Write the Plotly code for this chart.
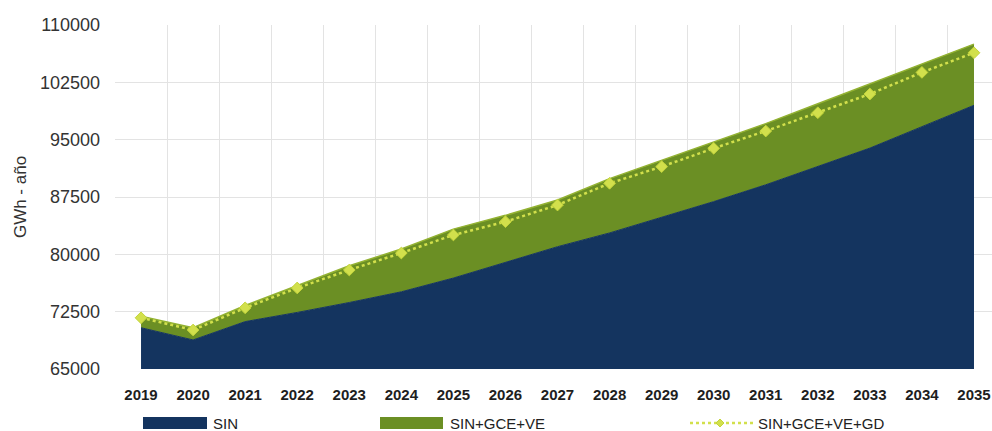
import plotly.graph_objects as go

# ---- data ----
years = list(range(2019, 2036))
sin = [70400, 68800, 71200, 72400, 73700, 75100, 76900, 79000, 81000,
       82800, 84800, 86900, 89100, 91500, 93900, 96700, 99500]
sin_gce_ve = [71900, 70400, 73300, 75900, 78500, 80700, 83300, 85100, 87100,
              89900, 92300, 94700, 97100, 99700, 102300, 105000, 107500]
sin_gce_ve_gd = [71700, 70100, 73000, 75600, 77950, 80170, 82530, 84270, 86450,
                 89290, 91470, 93870, 96130, 98520, 100970, 103800, 106370]
y_ticks = [65000, 72500, 80000, 87500, 95000, 102500, 110000]
series_names = ["SIN", "SIN+GCE+VE", "SIN+GCE+VE+GD"]

BLUE = "#14345f"
GREEN = "#6b8f24"
LIME = "#d2e04c"

fig = go.Figure()
fig.add_trace(go.Scatter(x=years, y=sin, name=series_names[0], mode="lines",
                         line=dict(color=BLUE, width=1), fill="tozeroy",
                         fillcolor=BLUE, showlegend=False))
fig.add_trace(go.Scatter(x=years, y=sin_gce_ve, name=series_names[1], mode="lines",
                         line=dict(color="#93b232", width=1.5), fill="tonexty",
                         fillcolor=GREEN, showlegend=False))
fig.add_trace(go.Scatter(x=years, y=sin_gce_ve_gd, name=series_names[2],
                         mode="lines+markers",
                         line=dict(color=LIME, width=2.5, dash="dot"),
                         marker=dict(symbol="diamond", size=9, color=LIME,
                                     line=dict(color="#c3d43a", width=1)),
                         showlegend=False))

# ---- custom legend (paper coordinates) ----
L, R, T, B = 115, 992, 25, 369
W, H = R - L, B - T
def px(x):
    return (x - L) / W
def py(y):
    return (B - y) / H

shapes = [
    dict(type="rect", xref="paper", yref="paper", x0=px(143), x1=px(207),
         y0=py(429), y1=py(417), fillcolor=BLUE, line=dict(width=0)),
    dict(type="rect", xref="paper", yref="paper", x0=px(380), x1=px(443),
         y0=py(429), y1=py(417), fillcolor=GREEN, line=dict(width=0)),
    dict(type="line", xref="paper", yref="paper", x0=px(690), x1=px(755),
         y0=py(423), y1=py(423), line=dict(color=LIME, width=2.5, dash="dot")),
    dict(type="path", xref="paper", yref="paper",
         path=f"M {px(716)},{py(423)} L {px(720)},{py(419)} L {px(724)},{py(423)} L {px(720)},{py(427)} Z",
         fillcolor=LIME, line=dict(color="#c3d43a", width=1)),
]
leg_font = dict(family="Liberation Sans, Arial, sans-serif", size=15, color="#222222")
annotations = [
    dict(xref="paper", yref="paper", x=px(x0), y=py(423), text=t, showarrow=False,
         xanchor="left", yanchor="middle", font=leg_font, borderpad=0)
    for x0, t in zip([212, 449, 757], series_names)
]

fig.update_layout(
    width=992, height=431,
    margin=dict(l=L, r=0, t=T, b=431 - B),
    paper_bgcolor="white", plot_bgcolor="white",
    shapes=shapes, annotations=annotations,
    showlegend=False,
    xaxis=dict(range=[2018.5, 2018.5 + W / 52.06], tickmode="array",
               tickvals=years, ticktext=[str(y) for y in years],
               showgrid=False, zeroline=False, showline=False, ticks="",
               ticklabelstandoff=15,
               tickfont=dict(family="Liberation Sans, Arial, sans-serif", size=15,
                             color="#1e1e1e", weight="bold"),
               minor=dict(tick0=2018.5, dtick=1, showgrid=True,
                          gridcolor="#e3e3e3", gridwidth=1, ticks="")),
    yaxis=dict(range=[65000, 110000], tickmode="array", tickvals=y_ticks,
               ticktext=[str(v) for v in y_ticks],
               showgrid=True, gridcolor="#e3e3e3", gridwidth=1,
               zeroline=False, showline=False, ticks="",
               ticklabelstandoff=14,
               tickfont=dict(family="Liberation Sans, Arial, sans-serif", size=18,
                             color="#333333"),
               title=dict(text="GWh - año", standoff=8,
                          font=dict(family="Liberation Sans, Arial, sans-serif",
                                    size=17, color="#333333"))),
)

fig.write_html("out.html")
